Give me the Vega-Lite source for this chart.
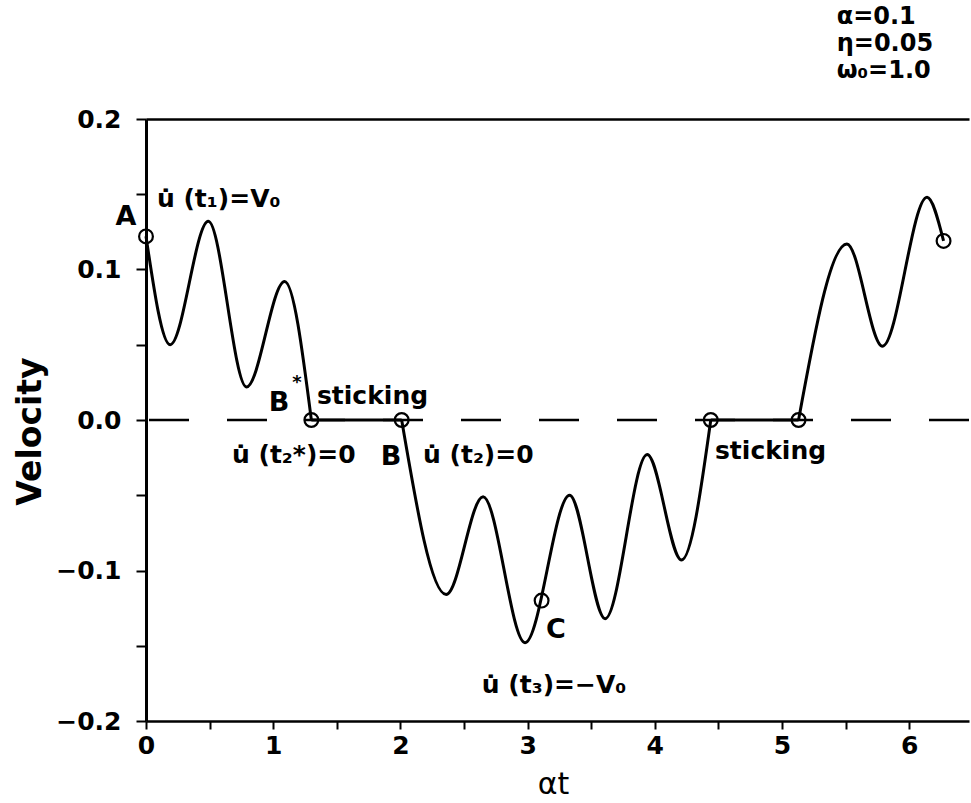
{
  "$schema": "https://vega.github.io/schema/vega-lite/v6.json",
  "width": 823,
  "height": 602,
  "autosize": {"type": "none"},
  "padding": {"top": 119, "left": 146, "right": 2, "bottom": 82},
  "background": "white",
  "config": {"view": {"stroke": null}, "font": "DejaVu Sans"},
  "datasets": {
    "zero": [{"y": 0}],
    "curve": [
      {"seg": 1, "x": 0.0, "y": 0.122},
      {"seg": 1, "x": 0.19, "y": 0.050},
      {"seg": 1, "x": 0.49, "y": 0.132},
      {"seg": 1, "x": 0.79, "y": 0.022},
      {"seg": 1, "x": 1.09, "y": 0.092},
      {"seg": 1, "x": 1.30, "y": 0.0},
      {"seg": 2, "x": 1.30, "y": 0.0},
      {"seg": 2, "x": 2.01, "y": 0.0},
      {"seg": 3, "x": 2.01, "y": 0.0},
      {"seg": 3, "x": 2.36, "y": -0.116},
      {"seg": 3, "x": 2.65, "y": -0.051},
      {"seg": 3, "x": 2.98, "y": -0.148},
      {"seg": 3, "x": 3.33, "y": -0.050},
      {"seg": 3, "x": 3.61, "y": -0.132},
      {"seg": 3, "x": 3.94, "y": -0.023},
      {"seg": 3, "x": 4.21, "y": -0.093},
      {"seg": 3, "x": 4.44, "y": 0.0},
      {"seg": 4, "x": 4.44, "y": 0.0},
      {"seg": 4, "x": 5.13, "y": 0.0},
      {"seg": 5, "x": 5.13, "y": 0.0},
      {"seg": 5, "x": 5.51, "y": 0.117},
      {"seg": 5, "x": 5.79, "y": 0.049},
      {"seg": 5, "x": 6.14, "y": 0.148},
      {"seg": 5, "x": 6.27, "y": 0.119}
    ],
    "circles": [
      {"x": 0.0, "y": 0.122},
      {"x": 1.30, "y": 0.0},
      {"x": 2.01, "y": 0.0},
      {"x": 3.11, "y": -0.120},
      {"x": 4.44, "y": 0.0},
      {"x": 5.13, "y": 0.0},
      {"x": 6.27, "y": 0.119}
    ],
    "labels": [
      {"kind": "note", "x": 0.086, "y": 0.147, "text": "u̇ (t₁)=V₀"},
      {"kind": "note", "x": 1.344, "y": 0.016, "text": "sticking"},
      {"kind": "note", "x": 0.676, "y": -0.023, "text": "u̇ (t₂*)=0"},
      {"kind": "note", "x": 2.178, "y": -0.023, "text": "u̇ (t₂)=0"},
      {"kind": "note", "x": 2.64, "y": -0.176, "text": "u̇ (t₃)=−V₀"},
      {"kind": "note", "x": 4.473, "y": -0.0206, "text": "sticking"},
      {"kind": "letter", "x": -0.157, "y": 0.135, "text": "A"},
      {"kind": "letter", "x": 1.046, "y": 0.0113, "text": "B"},
      {"kind": "letter", "x": 1.926, "y": -0.0246, "text": "B"},
      {"kind": "letter", "x": 3.223, "y": -0.1395, "text": "C"},
      {"kind": "star", "x": 1.187, "y": 0.0246, "text": "*"},
      {"kind": "param", "x": 5.43, "y": 0.268, "text": "α=0.1"},
      {"kind": "param", "x": 5.43, "y": 0.250, "text": "η=0.05"},
      {"kind": "param", "x": 5.43, "y": 0.2322, "text": "ω₀=1.0"}
    ]
  },
  "resolve": {"axis": {"x": "independent"}},
  "layer": [
    {
      "data": {"name": "curve"},
      "mark": {"type": "line", "interpolate": "monotone", "stroke": "black", "strokeWidth": 3},
      "encoding": {
        "detail": {"field": "seg", "type": "nominal"},
        "x": {
          "field": "x", "type": "quantitative",
          "scale": {"domain": [0, 6.47], "nice": false, "zero": false},
          "axis": {
            "orient": "bottom",
            "values": [0, 0.5, 1, 1.5, 2, 2.5, 3, 3.5, 4, 4.5, 5, 5.5, 6],
            "labelExpr": "datum.value % 1 == 0 ? format(datum.value, 'd') : ''",
            "grid": false, "tickSize": 8, "tickWidth": 2, "tickColor": "black",
            "domainColor": "black", "domainWidth": 2.5,
            "labelFont": "DejaVu Sans", "labelFontWeight": "bold", "labelFontSize": 25, "labelColor": "black",
            "labelPadding": 4, "labelFlush": false, "labelOverlap": false,
            "title": "αt", "titleFont": "DejaVu Sans", "titleFontWeight": "normal", "titleFontSize": 30, "titleColor": "black",
            "titleX": 407, "titleY": 63, "titleAlign": "center", "titleBaseline": "middle"
          }
        },
        "y": {
          "field": "y", "type": "quantitative",
          "scale": {"domain": [-0.2, 0.2], "nice": false},
          "axis": {
            "orient": "left",
            "values": [-0.2, -0.15, -0.1, -0.05, 0, 0.05, 0.1, 0.15, 0.2],
            "labelExpr": "round(datum.value * 20) % 2 == 0 ? format(datum.value, '.1f') : ''",
            "grid": false, "tickSize": 10, "tickWidth": 2, "tickColor": "black",
            "domainColor": "black", "domainWidth": 3,
            "labelFont": "DejaVu Sans", "labelFontWeight": "bold", "labelFontSize": 25, "labelColor": "black",
            "labelPadding": 15, "labelFlush": false, "labelOverlap": false,
            "title": "Velocity", "titleFont": "DejaVu Sans", "titleFontWeight": "bold", "titleFontSize": 33, "titleColor": "black",
            "titleAngle": -90, "titleX": -116, "titleY": 312, "titleAlign": "center", "titleBaseline": "middle"
          }
        }
      }
    },
    {
      "data": {"name": "zero"},
      "mark": {"type": "rule", "stroke": "black", "strokeWidth": 2.5, "strokeDash": [40, 38]},
      "encoding": {
        "y": {"field": "y", "type": "quantitative"}
      }
    },
    {
      "data": {"name": "circles"},
      "mark": {"type": "point", "shape": "circle", "filled": false, "size": 190, "stroke": "black", "strokeWidth": 2.2, "opacity": 1},
      "encoding": {
        "x": {"field": "x", "type": "quantitative", "axis": null},
        "y": {"field": "y", "type": "quantitative"}
      }
    },
    {
      "data": {"name": "labels"},
      "transform": [{"filter": "datum.kind == 'note'"}],
      "mark": {"type": "text", "align": "left", "baseline": "middle", "font": "DejaVu Sans", "fontWeight": "bold", "fontSize": 25, "color": "black"},
      "encoding": {
        "x": {"field": "x", "type": "quantitative", "axis": {"orient": "top", "ticks": false, "labels": false, "title": null, "grid": false, "domainColor": "black", "domainWidth": 2.5}},
        "y": {"field": "y", "type": "quantitative"},
        "text": {"field": "text"}
      }
    },
    {
      "data": {"name": "labels"},
      "transform": [{"filter": "datum.kind == 'letter'"}],
      "mark": {"type": "text", "align": "center", "baseline": "middle", "font": "DejaVu Sans", "fontWeight": "bold", "fontSize": 27, "color": "black"},
      "encoding": {
        "x": {"field": "x", "type": "quantitative", "axis": null},
        "y": {"field": "y", "type": "quantitative"},
        "text": {"field": "text"}
      }
    },
    {
      "data": {"name": "labels"},
      "transform": [{"filter": "datum.kind == 'star'"}],
      "mark": {"type": "text", "align": "center", "baseline": "middle", "font": "DejaVu Sans", "fontWeight": "bold", "fontSize": 18, "color": "black"},
      "encoding": {
        "x": {"field": "x", "type": "quantitative", "axis": null},
        "y": {"field": "y", "type": "quantitative"},
        "text": {"field": "text"}
      }
    },
    {
      "data": {"name": "labels"},
      "transform": [{"filter": "datum.kind == 'param'"}],
      "mark": {"type": "text", "align": "left", "baseline": "middle", "font": "DejaVu Sans", "fontWeight": "bold", "fontSize": 24, "color": "black"},
      "encoding": {
        "x": {"field": "x", "type": "quantitative", "axis": null},
        "y": {"field": "y", "type": "quantitative"},
        "text": {"field": "text"}
      }
    }
  ]
}
